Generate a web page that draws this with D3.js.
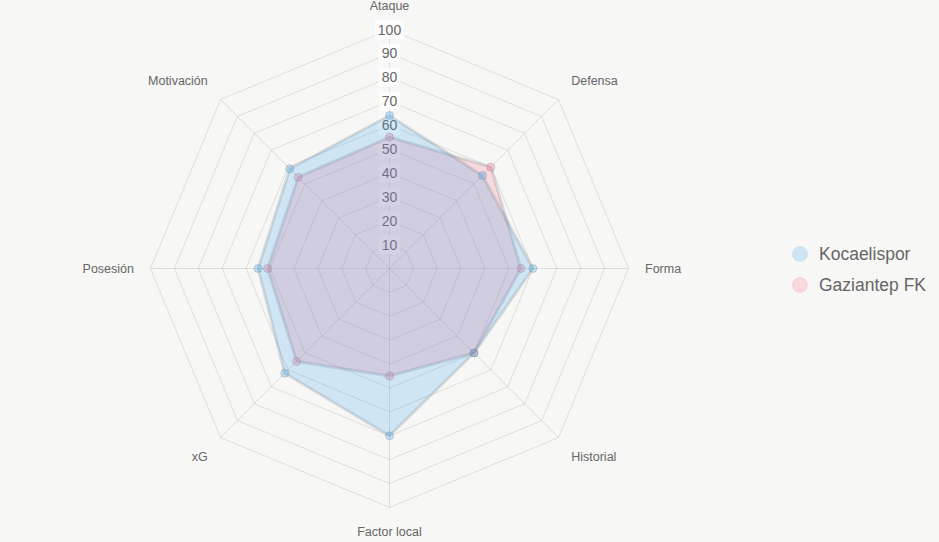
<!DOCTYPE html>
<html>
<head>
	<meta charset="utf-8">
	<title></title>
	<style>
		body { margin: 0; background: #f7f7f5; }
		svg { display: block; font-family: "Liberation Sans", Arial, sans-serif; }
	</style>
</head>
<body>
	<svg id="container" width="939" height="542"></svg>
</body>
<script src="https://d3js.org/d3.v7.min.js"></script>
<script>
	// chart data
	let axes = ["Ataque", "Defensa", "Forma", "Historial", "Factor local", "xG", "Posesión", "Motivación"]
	let kocaeli = [64, 55, 60, 50, 70, 62, 55, 59]
	let gaziantep = [55, 60, 55, 50, 45, 55, 51, 54]
	let seriesNames = ["Kocaelispor", "Gaziantep FK"]
	let ticks = [10, 20, 30, 40, 50, 60, 70, 80, 90, 100]

	let svg = d3.select("#container")
	let cx = 389.5, cy = 268.5
	let rScale = d3.scaleLinear().domain([0, 100]).range([0, 239])
	let angle = i => i * 2 * Math.PI / axes.length
	let pt = (i, r) => [cx + r * Math.sin(angle(i)), cy - r * Math.cos(angle(i))]

	let body = svg.append("g")

	// grid rings
	body.selectAll(".ring")
		.data(ticks)
		.enter()
		.append("polygon")
			.attr("points", v => axes.map((a, i) => pt(i, rScale(v)).join(",")).join(" "))
			.attr("fill", "none")
			.attr("stroke", "rgba(0,0,0,0.1)")
			.attr("stroke-width", 1)

	// spokes
	body.selectAll(".spoke")
		.data(axes)
		.enter()
		.append("line")
			.attr("x1", cx).attr("y1", cy)
			.attr("x2", (d, i) => pt(i, rScale(100))[0])
			.attr("y2", (d, i) => pt(i, rScale(100))[1])
			.attr("stroke", "rgba(0,0,0,0.1)")

	// point labels
	let labelPos = i => {
		let s = Math.sin(angle(i))
		let r = Math.abs(Math.abs(s) - 1) < 0.01 ? 255.5 : 257
		return pt(i, r)
	}
	body.selectAll(".plabel")
		.data(axes)
		.enter()
		.append("text")
			.text(d => d)
			.attr("x", (d, i) => labelPos(i)[0])
			.attr("y", (d, i) => {
				let c = Math.cos(angle(i)), y = labelPos(i)[1]
				if (c > 0.01) return y - 1.5
				if (c < -0.01) return y + 10.5
				return y + 4.5
			})
			.attr("text-anchor", (d, i) => {
				let s = Math.sin(angle(i))
				return s > 0.01 ? "start" : (s < -0.01 ? "end" : "middle")
			})
			.attr("font-size", "12.5px")
			.attr("fill", "#666")

	// tick labels with backdrop (drawn under the data)
	let tick = body.selectAll(".tick")
		.data(ticks)
		.enter()
		.append("g")
			.attr("transform", v => `translate(${cx},${cy - rScale(v)})`)

	tick.append("rect")
		.attr("x", v => -(String(v).length * 7.8) / 2 - 3)
		.attr("y", -9.5)
		.attr("width", v => String(v).length * 7.8 + 6)
		.attr("height", 19)
		.attr("fill", "rgba(255,255,255,0.75)")

	tick.append("text")
		.text(v => v)
		.attr("y", 5)
		.attr("text-anchor", "middle")
		.attr("font-size", "14px")
		.attr("fill", "#666")

	// datasets: drawn last first, like the original
	let sets = [
		{ name: seriesNames[1], values: gaziantep, rgb: "255,99,132" },
		{ name: seriesNames[0], values: kocaeli, rgb: "54,162,235" }
	]

	sets.forEach(s => {
		let g = body.append("g")
		g.append("polygon")
			.attr("points", s.values.map((v, i) => pt(i, rScale(v)).join(",")).join(" "))
			.attr("fill", `rgba(${s.rgb},0.2)`)
			.attr("stroke", "rgba(110,120,130,0.22)")
			.attr("stroke-width", 3)
			.attr("stroke-linejoin", "round")

		g.selectAll("circle")
			.data(s.values)
			.enter()
			.append("circle")
				.attr("cx", (v, i) => pt(i, rScale(v))[0])
				.attr("cy", (v, i) => pt(i, rScale(v))[1])
				.attr("r", 4)
				.attr("fill", `rgba(${s.rgb},0.28)`)
				.attr("stroke", "rgba(110,120,130,0.3)")
				.attr("stroke-width", 1)
	})

	// legend
	let legend = svg.selectAll(".legend")
		.data(seriesNames)
		.enter()
		.append("g")
			.attr("transform", (d, i) => `translate(800,${254 + i * 31})`)

	legend.append("circle")
		.attr("r", 7.5)
		.attr("fill", (d, i) => i == 0 ? "rgba(54,162,235,0.2)" : "rgba(255,99,132,0.2)")
		.attr("stroke", (d, i) => i == 0 ? "rgba(54,162,235,0.15)" : "rgba(255,99,132,0.15)")

	legend.append("text")
		.text(d => d)
		.attr("x", 19)
		.attr("y", 6)
		.attr("font-size", "17.5px")
		.attr("fill", "#666")
</script>
</html>
